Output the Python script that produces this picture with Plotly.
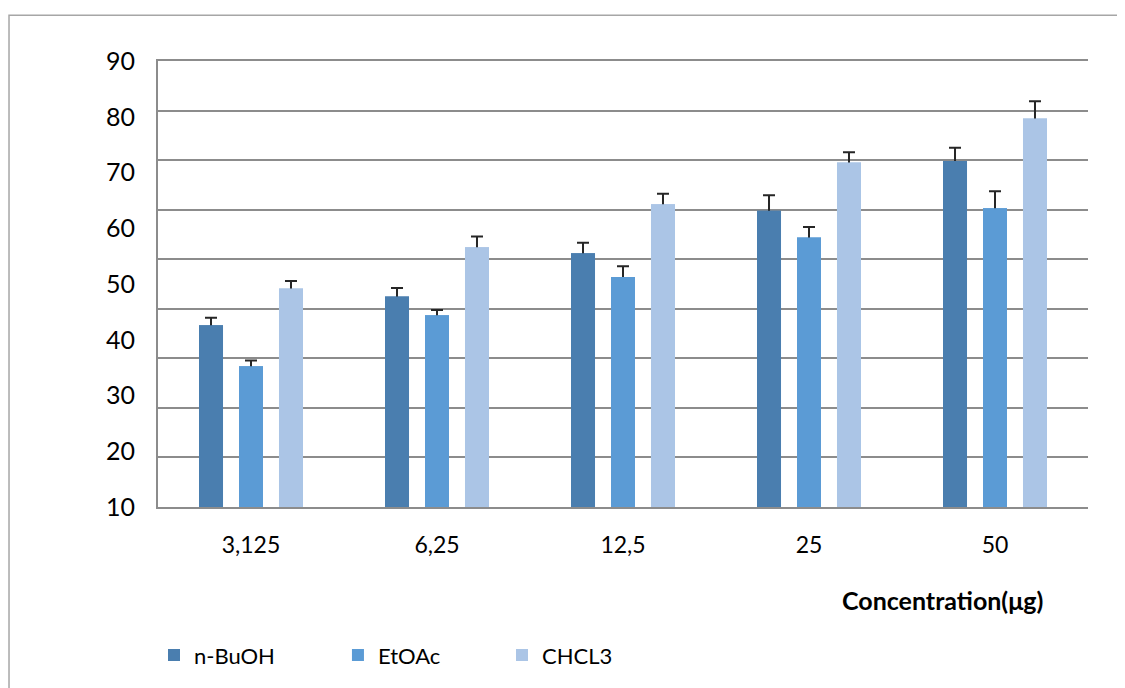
import plotly.graph_objects as go

categories = ["3,125", "6,25", "12,5", "25", "50"]
series_names = ["n-BuOH", "EtOAc", "CHCL3"]
nbuoh = [36.7, 42.5, 51.2, 59.8, 69.8]
etoac = [28.4, 38.7, 46.4, 54.4, 60.3]
chcl3 = [44.1, 52.4, 61.1, 69.5, 78.4]
nbuoh_err = [1.5, 1.7, 2.1, 3.1, 2.7]
etoac_err = [1.15, 1.07, 2.2, 2.1, 3.4]
chcl3_err = [1.5, 2.2, 2.1, 2.1, 3.5]
y_tick_labels = [10, 20, 30, 40, 50, 60, 70, 80, 90]
x_title = "Concentration(μg)"

colors = ["#4A7EAF", "#5B9BD5", "#ABC5E6"]
values = [nbuoh, etoac, chcl3]
errors = [nbuoh_err, etoac_err, chcl3_err]
legend_ids = ["legend", "legend2", "legend3"]
legend_x = [-0.0043, 0.1935, 0.3699]
FONT = "Lato, 'Open Sans', sans-serif"

fig = go.Figure()
# bars carrying error bars (lower half of the error bar is hidden by the overlay bars)
for name, vals, errs, col in zip(series_names, values, errors, colors):
    fig.add_trace(go.Bar(
        x=categories, y=vals, name=name, offsetgroup=name,
        marker=dict(color=col, line=dict(width=0)),
        error_y=dict(type="data", array=errs, visible=True,
                     color="#262626", thickness=2, width=6),
        showlegend=False, hoverinfo="skip",
    ))
# overlay bars (same data) so only the upper error part shows
for name, vals, col, lg in zip(series_names, values, colors, legend_ids):
    fig.add_trace(go.Bar(
        x=categories, y=vals, name=name, offsetgroup=name,
        marker=dict(color=col, line=dict(width=0)),
        showlegend=True, legend=lg,
    ))
# empty trace so the labelled value axis is drawn
fig.add_trace(go.Scatter(x=[], y=[], yaxis="y2", showlegend=False, hoverinfo="skip"))

legend_common = dict(
    orientation="h", y=-0.3325, xanchor="left", yanchor="middle",
    font=dict(size=22, color="#000"), bgcolor="rgba(0,0,0,0)",
)

fig.update_layout(
    width=1117, height=680,
    margin=dict(l=150, r=37, t=53, b=181, autoexpand=False),
    paper_bgcolor="white", plot_bgcolor="white",
    barmode="group", bargap=0.355, bargroupgap=0.4,
    font=dict(family=FONT, size=22, color="#000"),
    xaxis=dict(
        type="category", showgrid=False, ticks="", showline=True, mirror=True,
        linecolor="#8c8c8c", linewidth=1.5,
        tickfont=dict(size=23, color="#000"), ticklabelstandoff=17,
    ),
    yaxis=dict(
        range=[0, 90], dtick=10, showgrid=True, gridcolor="#8c8c8c",
        gridwidth=1.5, showticklabels=False, ticks="", zeroline=False,
        showline=True, linecolor="#8c8c8c", linewidth=1.5,
    ),
    yaxis2=dict(
        overlaying="y", anchor="x", side="left",
        range=[10, 90], tickvals=y_tick_labels,
        ticktext=[str(v) for v in y_tick_labels],
        showgrid=False, zeroline=False, showline=False, ticks="",
        tickfont=dict(size=25, color="#000"), ticklabelstandoff=22,
    ),
    legend=dict(x=legend_x[0], **legend_common),
    legend2=dict(x=legend_x[1], **legend_common),
    legend3=dict(x=legend_x[2], **legend_common),
    annotations=[dict(
        text="<b>" + x_title + "</b>", xref="paper", yref="paper",
        x=0.844, y=-0.209, xanchor="center", yanchor="middle",
        showarrow=False, font=dict(size=25, family=FONT, color="#000"),
    )],
    shapes=[dict(
        type="rect", xref="paper", yref="paper",
        x0=-0.1602, y0=-0.6, x1=1.2, y1=1.1025,
        line=dict(color="#a6a6a6", width=1.5), fillcolor="rgba(0,0,0,0)",
        layer="below",
    )],
)

fig.write_html("out.html")
